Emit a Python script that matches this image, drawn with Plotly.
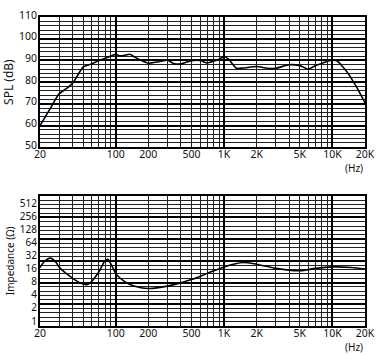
import numpy as np
import plotly.graph_objects as go

# SPL response (Hz, dB)
spl_freq = [20, 25, 30, 35, 40, 45, 50, 60, 70, 80, 90, 100, 110, 120, 135, 150, 175, 200, 250, 300,
            350, 400, 500, 600, 700, 800, 900, 1000, 1100, 1300, 1500, 2000, 2500, 3000, 4000, 5000,
            6000, 7000, 8000, 9000, 10000, 11000, 12000, 13500, 15000, 17500, 20000]
spl_db = [60, 68, 74.6, 77, 79.5, 83.5, 86.9, 88.4, 89.9, 91, 92, 92.8, 92.1, 92.3, 92.8, 91.5, 89.8, 88.7, 89.4, 90.1,
          88.4, 88.4, 89.9, 90, 88.8, 89.6, 90.5, 91.8, 90.6, 86.4, 86.5, 87.2, 86.4, 86.4, 88, 87.6,
          86, 87.6, 88.6, 89.6, 90.1, 89.8, 88, 85, 81.6, 76, 70.4]

# Impedance (Hz, ohms)
imp_freq = [20, 22, 25, 28, 30, 35, 40, 45, 50, 55, 60, 65, 70, 75, 80, 85, 90, 95, 100, 110, 130, 150,
            200, 300, 500, 700, 1000, 1500, 2000, 3000, 5000, 7000, 10000, 15000, 20000]
imp_ohm = [18, 25, 29.6, 24, 18.6, 13, 10.2, 8.4, 7.5, 7.3, 8.6, 11, 14.4, 20, 26.4, 27.7, 22, 17, 13.2, 10.2, 7.7, 6.7,
           5.9, 6.7, 9.5, 13.2, 18.6, 23.5, 21.4, 17.2, 15.2, 17.2, 18.6, 18.0, 16.6]

x_tickvals = [20, 100, 200, 500, 1000, 2000, 5000, 10000, 20000]
x_ticktext = ["20", "100", "200", "500", "1K", "2K", "5K", "10K", "20K"]
spl_ticks = [50, 60, 70, 80, 90, 100, 110]
imp_ticks = [1, 2, 4, 8, 16, 32, 64, 128, 256, 512]

FONT = "Noto Sans"
xr = [np.log10(20), np.log10(20000)]
imp_ref = 20 * np.log10(256)  # thick lines aligned at 256 ohm
imp_range = [imp_ref - 50, imp_ref + 10]

def to_db(v):
    return [20 * np.log10(z) for z in v]

fig = go.Figure()
fig.add_trace(go.Scatter(x=spl_freq, y=spl_db, mode="lines", line=dict(color="black", width=1.6, shape="spline", smoothing=0.6),
                         xaxis="x", yaxis="y", showlegend=False, hoverinfo="skip"))
fig.add_trace(go.Scatter(x=imp_freq, y=to_db(imp_ohm), mode="lines", line=dict(color="black", width=1.6, shape="spline", smoothing=0.8),
                         xaxis="x2", yaxis="y2", showlegend=False, hoverinfo="skip"))
# invisible traces so label axes are drawn
fig.add_trace(go.Scatter(x=spl_freq, y=spl_db, mode="lines", line=dict(width=0), opacity=0,
                         xaxis="x3", yaxis="y3", showlegend=False, hoverinfo="skip"))
fig.add_trace(go.Scatter(x=imp_freq, y=to_db(imp_ohm), mode="lines", line=dict(width=0), opacity=0,
                         xaxis="x4", yaxis="y4", showlegend=False, hoverinfo="skip"))

top_dom = [0.5786, 1.0]
bot_dom = [0.0, 0.4214]

grid_x = dict(type="log", range=xr, dtick=1, showgrid=True, gridcolor="black", gridwidth=2,
              showticklabels=False, ticks="", zeroline=False, showline=True, linecolor="black", linewidth=2, mirror=True,
              minor=dict(dtick="D1", showgrid=True, gridcolor="#222", gridwidth=1, ticks=""))
lab_x = dict(type="log", range=xr, tickvals=x_tickvals, ticktext=x_ticktext, showgrid=False, ticks="",
             tickfont=dict(family=FONT, size=10.5, color="#111"), zeroline=False, showline=False,
             ticklabelstandoff=-1)

fig.update_layout(
    width=383, height=355, margin=dict(l=35, r=11, t=8, b=29),
    paper_bgcolor="white", plot_bgcolor="white",
    xaxis=dict(**grid_x, domain=[0, 1], anchor="y"),
    yaxis=dict(range=[50, 110], dtick=10, tick0=50, showgrid=True, gridcolor="black", gridwidth=2, showticklabels=False,
               ticks="", zeroline=False, showline=True, linecolor="black", linewidth=2, mirror=True, domain=top_dom, anchor="x",
               minor=dict(dtick=2, tick0=50, showgrid=True, gridcolor="#222", gridwidth=1, ticks="")),
    xaxis3=dict(**lab_x, overlaying="x", anchor="y", side="bottom"),
    yaxis3=dict(range=[50, 110], tickvals=spl_ticks, showgrid=False, ticks="", overlaying="y", anchor="x", side="left",
                tickfont=dict(family=FONT, size=10.5, color="#111"), zeroline=False, ticklabelshift=-2,
                ticklabelstandoff=2,
                title=dict(text="SPL (dB)", font=dict(family=FONT, size=12, color="#111"), standoff=3)),
    xaxis2=dict(**grid_x, domain=[0, 1], anchor="y2"),
    yaxis2=dict(range=imp_range, dtick=10, tick0=imp_ref, showgrid=True, gridcolor="black", gridwidth=2, showticklabels=False,
                ticks="", zeroline=False, showline=True, linecolor="black", linewidth=2, mirror=True, domain=bot_dom, anchor="x2",
                minor=dict(dtick=2, tick0=imp_ref, showgrid=True, gridcolor="#222", gridwidth=1, ticks="")),
    xaxis4=dict(**lab_x, overlaying="x2", anchor="y2", side="bottom"),
    yaxis4=dict(range=imp_range, tickvals=to_db(imp_ticks), ticktext=[str(t) for t in imp_ticks], showgrid=False, ticks="",
                overlaying="y2", anchor="x2", side="left", tickfont=dict(family=FONT, size=10, color="#111"), zeroline=False,
                ticklabelshift=-1, ticklabelstandoff=2,
                title=dict(text="Impedance (Ω)", font=dict(family=FONT, size=10, color="#111"), standoff=3)),
)
fig.add_annotation(text="(Hz)", xref="paper", yref="paper", x=1.0, y=top_dom[0], yanchor="middle", yshift=-21,
                   showarrow=False, font=dict(family=FONT, size=10, color="#111"))
fig.add_annotation(text="(Hz)", xref="paper", yref="paper", x=1.0, y=bot_dom[0], yanchor="middle", yshift=-21,
                   showarrow=False, font=dict(family=FONT, size=10, color="#111"))
fig.write_html("out.html")
